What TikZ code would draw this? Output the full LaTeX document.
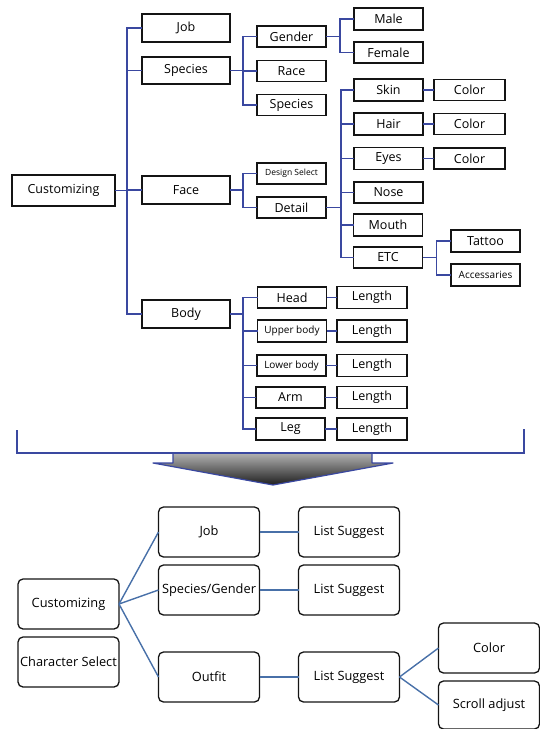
\documentclass[tikz,border=0pt]{standalone}
\usepackage{fontspec}
\setmainfont{Open Sans}
\definecolor{treenavy}{RGB}{58,72,160}
\definecolor{flowsteel}{RGB}{72,112,168}
\definecolor{boxink}{RGB}{20,20,20}
\tikzset{
  treebox/.style={draw=boxink, line width=1.6pt, fill=white, inner sep=0pt,
    outer sep=0pt, font=\fontsize{12.5}{14}\selectfont,
    minimum width=69pt, minimum height=21pt},
  treebig/.style={treebox, minimum width=88pt, minimum height=28pt},
  treesmall/.style={treebox, font=\fontsize{10}{12}\selectfont},
  treeline/.style={treenavy, line width=1.2pt},
  flowbox/.style={draw=boxink, line width=1.3pt, rounded corners=5pt,
    fill=white, inner sep=0pt, outer sep=0pt, font=\fontsize{12.8}{14}\selectfont,
    minimum width=101pt, minimum height=50pt},
  flowline/.style={flowsteel, line width=1.4pt},
}
\begin{document}
\begin{tikzpicture}[x=1pt, y=-1pt]
  \useasboundingbox (0,0) rectangle (540,729);
  \node[treebox, minimum width=103pt, minimum height=31pt] (cust) at (63.5,190.5) {Customizing};
  \node[treebig] (job) at (186,28) {Job};
  \node[treebig, minimum height=27pt] (spec) at (186,70.5) {Species};
  \node[treebig] (face) at (186,190) {Face};
  \node[treebig] (body) at (186,314) {Body};
  \node[treebox] (gender) at (291.5,36.5) {Gender};
  \node[treebox] (race) at (291.5,71) {Race};
  \node[treebox] (specsub) at (291.5,105) {Species};
  \node[treebox, font=\fontsize{8.5}{10}\selectfont] (design) at (291.5,173.5) {Design Select};
  \node[treebox] (detail) at (291.5,207.5) {Detail};
  \node[treebox, minimum height=22pt] (male) at (388.5,19) {Male};
  \node[treebox] (female) at (388.5,52.5) {Female};
  \node[treebox, minimum height=22pt] (skin) at (388.5,90) {Skin};
  \node[treebox, minimum height=22pt] (hair) at (388.5,124) {Hair};
  \node[treebox, minimum height=22pt] (eyes) at (388.5,158.5) {Eyes};
  \node[treebox] (nose) at (388.5,192.5) {Nose};
  \node[treebox, minimum height=22pt] (mouth) at (388,225) {Mouth};
  \node[treebox] (etc) at (388,257.5) {ETC};
  \node[treebox, minimum width=71pt] (colskin) at (469.5,90) {Color};
  \node[treebox, minimum width=71pt] (colhair) at (469.5,124) {Color};
  \node[treebox, minimum width=71pt] (coleyes) at (469.5,158.5) {Color};
  \node[treebox, minimum height=22pt] (tattoo) at (485.5,241) {Tattoo};
  \node[treesmall, minimum height=22pt] (acc) at (485.5,275) {Accessaries};
  \node[treebox] (head) at (292,297.5) {Head};
  \node[treesmall, minimum height=22pt] (upper) at (292,331) {Upper body};
  \node[treesmall] (lower) at (291.5,365.5) {Lower body};
  \node[treebox] (arm) at (290.5,397.5) {Arm};
  \node[treebox, minimum height=22pt] (leg) at (290.5,429) {Leg};
  \node[treebox, minimum width=70pt, minimum height=22pt] (lenhead) at (372,297.5) {Length};
  \node[treebox, minimum width=70pt, minimum height=22pt] (lenupper) at (372,331) {Length};
  \node[treebox, minimum width=70pt, minimum height=22pt] (lenlower) at (372,365.5) {Length};
  \node[treebox, minimum width=70pt, minimum height=22pt] (lenarm) at (372,397.5) {Length};
  \node[treebox, minimum width=70pt, minimum height=22pt] (lenleg) at (372,429) {Length};

  \foreach \k in {job,spec,face,body}
    \draw[treeline] (cust.east) -- ++(12,0) |- (\k.west);
  \foreach \k in {gender,race,specsub}
    \draw[treeline] (spec.east) -- ++(13,0) |- (\k.west);
  \foreach \k in {male,female}
    \draw[treeline] (gender.east) -- ++(14,0) |- (\k.west);
  \foreach \k in {design,detail}
    \draw[treeline] (face.east) -- ++(13,0) |- (\k.west);
  \foreach \k in {skin,hair,eyes,nose,mouth,etc}
    \draw[treeline] (detail.east) -- ++(15,0) |- (\k.west);
  \foreach \k in {tattoo,acc}
    \draw[treeline] (etc.east) -- ++(14,0) |- (\k.west);
  \foreach \k in {head,upper,lower,arm,leg}
    \draw[treeline] (body.east) -- ++(13,0) |- (\k.west);
  \draw[treeline] (skin) -- (colskin);
  \draw[treeline] (hair) -- (colhair);
  \draw[treeline] (eyes) -- (coleyes);
  \draw[treeline] (head) -- (lenhead);
  \draw[treeline] (upper) -- (lenupper);
  \draw[treeline] (lower) -- (lenlower);
  \draw[treeline] (arm) -- (lenarm);
  \draw[treeline] (leg) -- (lenleg);

  \coordinate (brl) at (17,430);
  \coordinate (brr) at (524,429);
  \shade[top color=black!30, bottom color=black!88]
    (173,453) -- (173,463) -- (153,463) -- (273,485) -- (393,463)
    -- (372,463) -- (372,453) -- cycle;
  \draw[treeline, line join=round] (173,453) -- (173,463) -- (153,463) -- (273,485)
    -- (393,463) -- (372,463) -- (372,453);
  \draw[treeline] (brl) |- (brr |- 0,453) -- (brr);

  \node[flowbox] (bcust) at (68.5,604) {Customizing};
  \node[flowbox] (bsel) at (68.5,662) {Character Select};
  \node[flowbox] (bjob) at (209,532) {Job};
  \node[flowbox] (bspec) at (209,590) {Species/Gender};
  \node[flowbox] (boutfit) at (209,677) {Outfit};
  \node[flowbox] (listjob) at (349,532) {List Suggest};
  \node[flowbox] (listspec) at (349,590) {List Suggest};
  \node[flowbox] (listoutfit) at (349,677) {List Suggest};
  \node[flowbox] (bcolor) at (489,648) {Color};
  \node[flowbox, minimum height=48pt] (bscroll) at (489,705) {Scroll adjust};

  \foreach \k in {bjob,bspec,boutfit}
    \draw[flowline] (bcust.east) -- (\k.west);
  \draw[flowline] (bjob) -- (listjob);
  \draw[flowline] (bspec) -- (listspec);
  \draw[flowline] (boutfit) -- (listoutfit);
  \draw[flowline] (listoutfit.east) -- (bcolor.west);
  \draw[flowline] (listoutfit.east) -- (bscroll.west);
\end{tikzpicture}
\end{document}
